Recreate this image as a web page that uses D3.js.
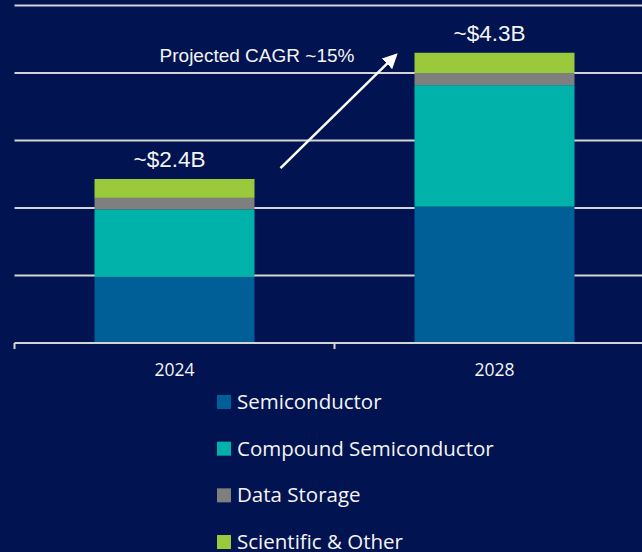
<!DOCTYPE html>
<html>
<head>
<meta charset="utf-8">
<script src="https://cdn.jsdelivr.net/npm/d3@7"></script>
<style>
  html, body { margin: 0; padding: 0; background: #011350; }
  svg { display: block; }
</style>
</head>
<body>
<svg id="chart"></svg>
<script>
const years = ["2024", "2028"];
const segments = ["Semiconductor", "Compound Semiconductor", "Data Storage", "Scientific & Other"];
const semiconductor = [0.98, 2.02];
const compound = [1.0, 1.8];
const dataStorage = [0.17, 0.18];
const scientific = [0.28, 0.30];
const totalLabels = ["~$2.4B", "~$4.3B"];
const gridTicks = [1, 2, 3, 4, 5];
const cagrText = "Projected CAGR ~15%";

const colors = ["#005f96", "#00b2a9", "#7f7f7f", "#9bc93c"];

const width = 642, height = 552;

const svg = d3.select("#chart")
    .attr("width", width)
    .attr("height", height);

// build rows for the stack
const rows = years.map((yr, i) => ({
    year: yr,
    "Semiconductor": semiconductor[i],
    "Compound Semiconductor": compound[i],
    "Data Storage": dataStorage[i],
    "Scientific & Other": scientific[i]
}));
const stacked = d3.stack().keys(segments)(rows);

const x = d3.scaleBand()
    .domain(years)
    .range([14.5, 654.5])
    .paddingInner(0.5)
    .paddingOuter(0.25);

const y = d3.scaleLinear()
    .domain([0, 5])
    .range([343, 5.5]);

// gridlines
svg.append("g")
    .selectAll("line")
    .data(gridTicks)
    .join("line")
    .attr("x1", 14.5)
    .attr("x2", width)
    .attr("y1", d => y(d))
    .attr("y2", d => y(d))
    .attr("stroke", "#d4d4d4")
    .attr("stroke-width", 2);

// bars
svg.append("g")
    .selectAll("g")
    .data(stacked)
    .join("g")
    .attr("fill", (d, i) => colors[i])
    .selectAll("rect")
    .data(d => d)
    .join("rect")
    .attr("x", d => x(d.data.year))
    .attr("width", x.bandwidth())
    .attr("y", d => y(d[1]))
    .attr("height", d => y(d[0]) - y(d[1]));

// x axis: line with ticks at category boundaries
const boundaries = years.map(yr => x(yr) - x.step() * x.paddingInner() / 2);
boundaries.push(x(years[years.length - 1]) + x.bandwidth() + x.step() * x.paddingInner() / 2);

const axis = svg.append("g");
axis.append("line")
    .attr("x1", boundaries[0])
    .attr("x2", width)
    .attr("y1", y(0))
    .attr("y2", y(0))
    .attr("stroke", "#d4d4d4")
    .attr("stroke-width", 2);
axis.selectAll("line.tick")
    .data(boundaries)
    .join("line")
    .attr("class", "tick")
    .attr("x1", d => d)
    .attr("x2", d => d)
    .attr("y1", y(0))
    .attr("y2", y(0) + 6)
    .attr("stroke", "#d4d4d4")
    .attr("stroke-width", 2);
axis.selectAll("text")
    .data(years)
    .join("text")
    .attr("x", d => x(d) + x.bandwidth() / 2)
    .attr("y", 376)
    .attr("text-anchor", "middle")
    .attr("fill", "#f4f4f4")
    .style("font-family", "'Open Sans', Lato, sans-serif")
    .style("font-size", "17.5px")
    .text(d => d);

// total labels above bars
const totals = years.map((yr, i) => semiconductor[i] + compound[i] + dataStorage[i] + scientific[i]);
svg.append("g")
    .selectAll("text")
    .data(years)
    .join("text")
    .attr("x", d => x(d) + x.bandwidth() / 2 - 5)
    .attr("y", (d, i) => y(totals[i]) - 11.5)
    .attr("text-anchor", "middle")
    .attr("fill", "#f4f4f4")
    .style("font-family", "'Liberation Sans', Arial, sans-serif")
    .style("font-size", "22.5px")
    .text((d, i) => totalLabels[i]);

// CAGR arrow
const defs = svg.append("defs");
defs.append("marker")
    .attr("id", "arrowhead")
    .attr("viewBox", "0 0 10 10")
    .attr("refX", 8)
    .attr("refY", 5)
    .attr("markerWidth", 6)
    .attr("markerHeight", 6)
    .attr("orient", "auto")
    .append("path")
    .attr("d", "M0,0 L10,5 L0,10 z")
    .attr("fill", "#ffffff");

svg.append("line")
    .attr("x1", x("2024") + x.bandwidth() + 26)
    .attr("y1", y(2.59))
    .attr("x2", x("2028") - 19)
    .attr("y2", y(4.26))
    .attr("stroke", "#ffffff")
    .attr("stroke-width", 2.5)
    .attr("marker-end", "url(#arrowhead)");

svg.append("text")
    .attr("x", 257)
    .attr("y", 61.7)
    .attr("text-anchor", "middle")
    .attr("fill", "#f4f4f4")
    .style("font-family", "'Liberation Sans', Arial, sans-serif")
    .style("font-size", "19px")
    .text(cagrText);

// legend
const legend = svg.append("g")
    .attr("transform", "translate(217,395)");
const item = legend.selectAll("g")
    .data(segments)
    .join("g")
    .attr("transform", (d, i) => `translate(0,${i * 46.67})`);
item.append("rect")
    .attr("width", 14)
    .attr("height", 14)
    .attr("fill", (d, i) => colors[i]);
item.append("text")
    .attr("x", 20)
    .attr("y", 14)
    .attr("fill", "#f4f4f4")
    .style("font-family", "'Open Sans', Lato, sans-serif")
    .style("font-size", "20.5px")
    .text(d => d);
</script>
</body>
</html>
